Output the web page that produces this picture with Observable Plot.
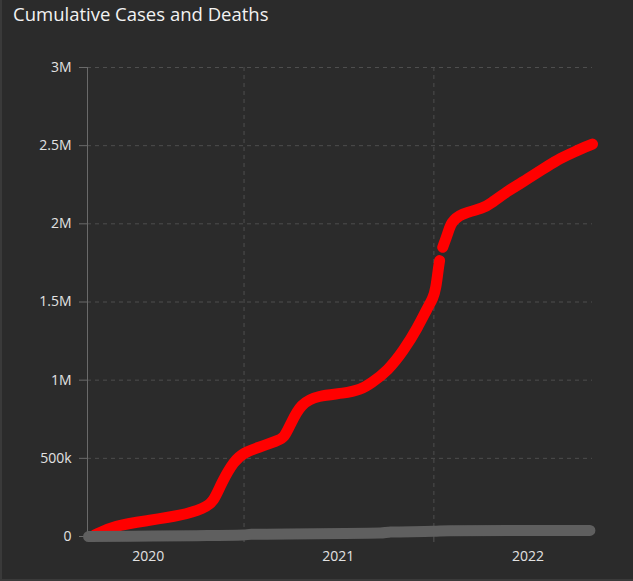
<!DOCTYPE html>
<html>
<head>
<meta charset="utf-8">
<script src="https://cdn.jsdelivr.net/npm/d3@7"></script>
<script src="https://cdn.jsdelivr.net/npm/@observablehq/plot@0.6"></script>
<style>
  html, body { margin: 0; padding: 0; background: #2b2b2b; }
  #wrap { position: relative; width: 633px; height: 581px; background: #2b2b2b; overflow: hidden; }
  #title { position: absolute; left: 13px; top: 0; height: 40px; line-height: 28px;
           font-family: "Open Sans", "Noto Sans", sans-serif; font-size: 18.5px; color: #f2f2f2; white-space: nowrap; }
  #chart { position: absolute; left: 0; top: 40px; }
  .bl { position: absolute; left: 0; top: 0; width: 2px; height: 581px; background: #3a3a3a; }
  .bb { position: absolute; left: 0; top: 579px; width: 633px; height: 2px; background: #3a3a3a; }
</style>
</head>
<body>
<div id="wrap">
  <div id="title">Cumulative Cases and Deaths</div>
  <div id="chart"></div>
  <div class="bl"></div>
  <div class="bb"></div>
</div>
<script>
const caseDates = ["2020-03-20","2020-04-26","2020-07-01","2020-09-02","2020-10-16","2020-11-04","2020-11-18","2020-12-13","2021-01-01","2021-01-28","2021-03-07","2021-03-19","2021-04-01","2021-04-20","2021-05-23","2021-07-12","2021-08-14","2021-09-02","2021-10-05","2021-11-04","2021-12-01","2021-12-20","2021-12-30","2022-01-05","2022-01-09","2022-01-12","2022-01-15","2022-01-18","2022-01-28","2022-02-03","2022-02-22","2022-04-07","2022-04-20","2022-05-23","2022-06-17","2022-07-06","2022-08-08","2022-09-02","2022-09-27","2022-11-02"];
const caseValues = [10000,70000,102000,134000,179000,225000,340000,486000,537000,569000,614000,630000,723000,850000,902000,915000,940000,979000,1062000,1190000,1337000,1465000,1520000,1590000,1700000,1765000,null,1850000,1940000,2010000,2066000,2100000,2130000,2210000,2260000,2300000,2370000,2420000,2460000,2510000];

const deathDates = ["2020-03-08","2020-06-01","2020-10-01","2020-12-31","2021-01-15","2021-09-20","2021-10-10","2021-12-31","2022-01-31","2022-10-28"];
const deathValues = [0,2000,5000,10000,14000,22000,29000,33000,37000,39000];

const yTicks = [0, 500000, 1000000, 1500000, 2000000, 2500000, 3000000];
const yTickLabels = ["0", "500k", "1M", "1.5M", "2M", "2.5M", "3M"];
const yearStarts = ["2021-01-01", "2022-01-01"];
const yearLabelDates = ["2020-07-01", "2021-07-01", "2022-07-01"];
const yearLabels = ["2020", "2021", "2022"];
const xDomain = ["2020-03-06", "2022-11-02"];

const cases = caseDates.map((d, i) => ({date: new Date(d), value: caseValues[i]}));
const deaths = deathDates.map((d, i) => ({date: new Date(d), value: deathValues[i]}));
const yStarts = yearStarts.map(d => new Date(d));
const yMid = yearLabelDates.map(d => new Date(d));

const chart = Plot.plot({
  width: 633,
  height: 541,
  marginLeft: 87,
  marginRight: 41,
  marginTop: 27,
  marginBottom: 45,
  style: {background: "transparent", color: "#e2e2e2", fontFamily: "'Open Sans', 'Noto Sans', sans-serif", fontSize: "14px"},
  x: {type: "utc", domain: xDomain.map(d => new Date(d))},
  y: {domain: [0, 3000000]},
  marks: [
    Plot.ruleY(yTicks.slice(1), {stroke: "#4e4e4e", strokeDasharray: "4,4", strokeWidth: 1}),
    Plot.ruleX(yStarts, {stroke: "#4e4e4e", strokeDasharray: "4,4", strokeWidth: 1}),
    Plot.ruleX([new Date(xDomain[0])], {stroke: "#6a6a6a", strokeWidth: 1}),
    Plot.axisY({ticks: yTicks, tickFormat: (d) => yTickLabels[yTicks.indexOf(d)], tickSize: 8, tickPadding: 8, stroke: "#6a6a6a", label: null}),
    Plot.axisX({ticks: yStarts, tickSize: 6, tickFormat: () => "", stroke: "#555", label: null}),
    Plot.axisX({ticks: yMid, tickSize: 0, tickPadding: 15, tickFormat: (d) => yearLabels[yMid.findIndex(m => +m === +d)], label: null}),
    Plot.line(cases, {x: "date", y: "value", stroke: "#ff0000", strokeWidth: 11, strokeLinecap: "round", strokeLinejoin: "round", curve: "basis"}),
    Plot.line(deaths, {x: "date", y: "value", stroke: "#5f5f5f", strokeWidth: 11, strokeLinecap: "round", strokeLinejoin: "round", curve: "monotone-x"})
  ]
});
document.getElementById("chart").appendChild(chart);
</script>
</body>
</html>
